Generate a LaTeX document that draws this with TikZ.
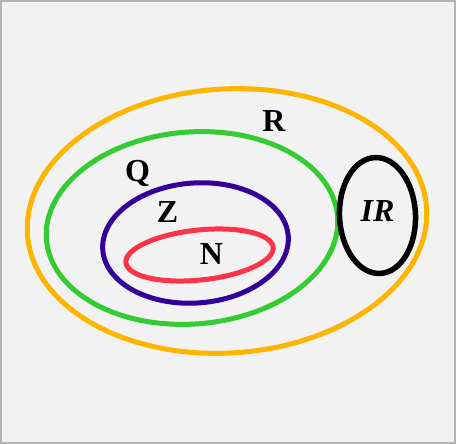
\documentclass[tikz,border=0pt]{standalone}
\usepackage{fontspec}
\setmainfont{Liberation Serif}
\definecolor{bgc}{HTML}{F2F2F2}
\definecolor{framec}{HTML}{B4B4B4}
\definecolor{setR}{HTML}{FFB400}
\definecolor{setQ}{HTML}{33CC33}
\definecolor{setZ}{HTML}{330099}
\definecolor{setN}{HTML}{FF3347}
\begin{document}
\begin{tikzpicture}[x=1pt,y=1pt,
  setline/.style={line width=5pt},
  lbl/.style={inner sep=0pt,anchor=base,font=\fontsize{32}{32}\selectfont\bfseries}]
\useasboundingbox (0,0) rectangle (456,444);
\fill[bgc] (0,0) rectangle (456,444);
\draw[framec,line width=2pt] (1,1) rectangle (455,443);
% R
\draw[setline,setR,rotate around={3.7:(227,223)}] (227,223) ellipse [x radius=200,y radius=132];
% Q
\draw[setline,setQ,rotate around={4.5:(192,216)}] (192,216) ellipse [x radius=146,y radius=96];
% Z
\draw[setline,setZ,rotate around={4.3:(195.5,201)}] (195.5,201) ellipse [x radius=93,y radius=60];
% N
\draw[setline,setN,rotate around={6:(199.5,189)}] (199.5,189) ellipse [x radius=74,y radius=25];
% IR
\draw[setline,black,line width=5.5pt,rotate around={2.5:(377.5,228.5)}] (377.5,228.5) ellipse [x radius=38,y radius=58];
\node[lbl] (lR) at (274,312) {R};
\node[lbl] (lQ) at (137.5,262) {Q};
\node[lbl] (lZ) at (167.5,221) {Z};
\node[lbl] (lN) at (211.5,179) {N};
\node[lbl,font=\fontsize{32}{32}\selectfont\bfseries\itshape] (lIR) at (377.5,222) {IR};
\end{tikzpicture}
\end{document}
